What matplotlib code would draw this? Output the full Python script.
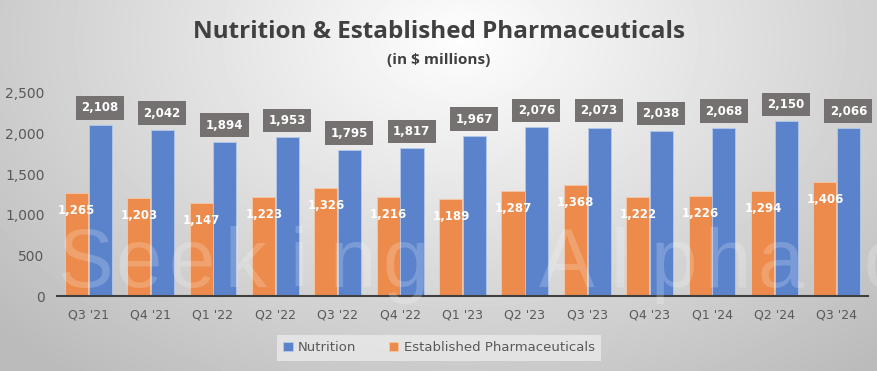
import numpy as np
import matplotlib.pyplot as plt

quarters = ["Q3 '21", "Q4 '21", "Q1 '22", "Q2 '22", "Q3 '22", "Q4 '22", "Q1 '23",
            "Q2 '23", "Q3 '23", "Q4 '23", "Q1 '24", "Q2 '24", "Q3 '24"]
nutrition = [2108, 2042, 1894, 1953, 1795, 1817, 1967, 2076, 2073, 2038, 2068, 2150, 2066]
epd = [1265, 1203, 1147, 1223, 1326, 1216, 1189, 1287, 1368, 1222, 1226, 1294, 1406]

blue = "#5a83cc"
orange = "#ec8b4b"
txt = "#595959"

fig = plt.figure(figsize=(8.78, 3.71), dpi=100)

# light gray radial background
bg = fig.add_axes([0, 0, 1, 1])
yy, xx = np.mgrid[0:371, 0:878]
r = np.sqrt(((xx - 460) / 520.0) ** 2 + ((yy - 40) / 360.0) ** 2)
shade = 0.995 - 0.22 * np.clip(r, 0, 1.2)
bg.imshow(shade, cmap="gray", vmin=0, vmax=1, aspect="auto")
bg.axis("off")

# faint watermark, letters spread out
mark = "Seeking  Alpha α"
for k, ch in enumerate(mark):
    fig.text((85 + k * 53.5) / 878, 0.285, ch, ha="center", va="center", fontsize=60,
             color="white", alpha=0.2, family="Liberation Sans")

fig.text(0.5, 0.915, "Nutrition & Established Pharmaceuticals", ha="center", va="center",
         fontsize=17.5, fontweight="bold", color="#404040", family="Open Sans")
fig.text(0.5, 0.838, "(in $ millions)", ha="center", va="center",
         fontsize=11, fontweight="bold", color="#404040", family="Open Sans")

ax = fig.add_axes([57 / 878, 1 - 296 / 371, 811 / 878, 203 / 371])
ax.patch.set_alpha(0)
x = np.arange(len(quarters))
w = 0.37
ax.bar(x - w / 2 - 0.005, epd, w, color=orange, edgecolor="#f6c8a8", linewidth=0.6,
       label="Established Pharmaceuticals", zorder=2)
ax.bar(x + w / 2 + 0.005, nutrition, w, color=blue, edgecolor="#b4c8ea", linewidth=0.6,
       label="Nutrition", zorder=2)

for i in range(len(quarters)):
    ax.text(x[i] - w / 2, epd[i] - 215, f"{epd[i]:,}", ha="center", va="center",
            color="white", fontsize=8.5, fontweight="bold", zorder=4)
    ax.text(x[i] + w / 2, nutrition[i] + 210, f"{nutrition[i]:,}", ha="center", va="center",
            color="white", fontsize=8.5, fontweight="bold", zorder=4, clip_on=False,
            bbox=dict(boxstyle="square,pad=0.45", fc="#767171", ec="none"))

ax.set_xlim(-0.5, 12.5)
ax.set_ylim(0, 2500)
ax.set_xticks(x)
ax.set_xticklabels(quarters, fontsize=9, color=txt)
ax.set_yticks([0, 500, 1000, 1500, 2000, 2500])
ax.set_yticklabels(["0", "500", "1,000", "1,500", "2,000", "2,500"], fontsize=10, color=txt)
ax.tick_params(length=0, pad=9)
for s in ["top", "right", "left"]:
    ax.spines[s].set_visible(False)
ax.spines["bottom"].set_color("#404040")
ax.spines["bottom"].set_linewidth(1.5)

h, l = ax.get_legend_handles_labels()
leg = fig.legend(h[::-1], l[::-1], loc="center", bbox_to_anchor=(0.5, 0.062), ncol=2,
                 fontsize=9.5, frameon=True, fancybox=False, handlelength=0.7,
                 handleheight=0.7, columnspacing=2.5, handletextpad=0.4, borderpad=0.5)
leg.get_frame().set_facecolor("#e8e8e8")
leg.get_frame().set_edgecolor("none")
leg.get_frame().set_alpha(0.85)
for t in leg.get_texts():
    t.set_color(txt)

fig.savefig("out.png", dpi=100)
